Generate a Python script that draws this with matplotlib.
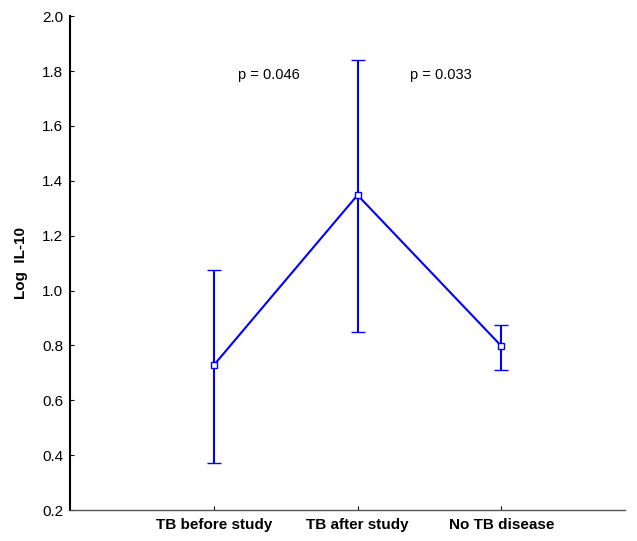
import matplotlib.pyplot as plt
import numpy as np

plt.rcParams['font.family'] = ['Liberation Sans', 'DejaVu Sans']

# Dati
groups = ['TB before study', 'TB after study', 'No TB disease']
means = [0.728, 1.348, 0.798]
upper = [1.075, 1.842, 0.876]
lower = [0.371, 0.848, 0.711]
p_labels = ['p = 0.046', 'p = 0.033']
p_pos = [1.385, 2.58]
p_y = 1.785

x = np.arange(1, len(groups) + 1)
yerr = [np.array(means) - np.array(lower), np.array(upper) - np.array(means)]

fig = plt.figure(figsize=(6.37, 5.41), dpi=100)
ax = fig.add_axes([0.11, 0.0573, 0.871, 0.9127])

ax.errorbar(x, means, yerr=yerr, color='#0000ff', lw=1.5, elinewidth=1.5,
            capsize=7 * 72 / 100, capthick=1.5, marker='s', markersize=4.5,
            markerfacecolor='white', markeredgecolor='#0000ff', markeredgewidth=1)

for label, px in zip(p_labels, p_pos):
    ax.text(px, p_y, label, ha='center', va='center', fontsize=10.5)

ax.set_xlim(0, 3.86)
ax.set_ylim(0.2, 2.0)
ax.set_yticks(np.arange(0.2, 2.01, 0.2))
ax.set_yticklabels([f'{v:.1f}' for v in np.arange(0.2, 2.01, 0.2)])
ax.set_xticks(x)
ax.set_xticklabels(groups, fontweight='bold', fontsize=11)
ax.tick_params(axis='y', direction='in', length=3, labelsize=11, pad=5)
ax.tick_params(axis='x', direction='in', length=3, pad=6)
ax.set_ylabel('Log  IL-10', fontweight='bold', fontsize=11, labelpad=10)

ax.spines['top'].set_visible(False)
ax.spines['right'].set_visible(False)
ax.spines['left'].set_linewidth(1.5)
ax.spines['bottom'].set_linewidth(1)
ax.spines['bottom'].set_color('#555555')

plt.savefig('out.png', dpi=100)
